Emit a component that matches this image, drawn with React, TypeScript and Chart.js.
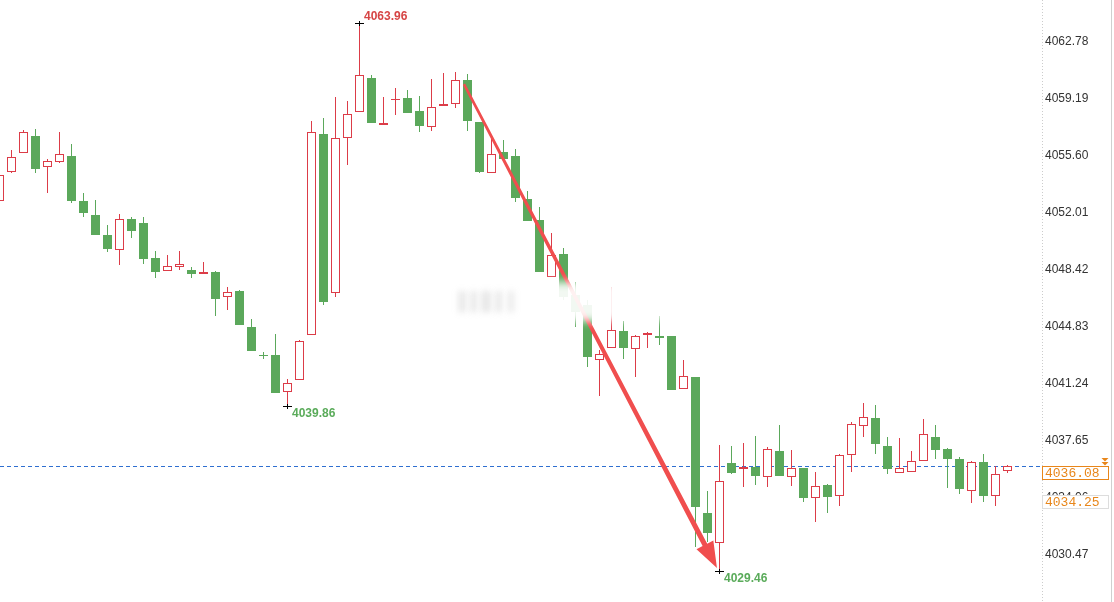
import React, { useEffect, useRef } from 'react';
import { Chart, registerables } from 'chart.js';

Chart.register(...registerables);

// OHLC series, one candle per bar (index 0 is partly off the left edge)
const opens = [
  4052.76, 4054.59, 4055.79, 4056.86, 4054.90, 4055.22, 4055.60, 4052.76, 4051.88, 4050.62,
  4049.67, 4051.63, 4051.38, 4049.17, 4048.35, 4048.60, 4048.41, 4048.16, 4048.29, 4046.71,
  4047.09, 4044.82, 4043.07, 4043.06, 4040.73, 4041.48, 4044.32, 4056.98, 4046.96, 4056.73,
  4058.37, 4060.51, 4057.55, 4059.19, 4059.25, 4058.43, 4057.42, 4058.75, 4058.87, 4060.39,
  4057.74, 4054.53, 4055.85, 4055.60, 4052.89, 4051.56, 4047.97, 4049.42, 4046.84, 4046.21,
  4042.74, 4043.50, 4044.57, 4043.44, 4044.31, 4044.26, 4044.26, 4040.92, 4041.67, 4033.10,
  4031.21, 4036.25, 4035.87, 4036.00, 4035.37, 4037.01, 4035.37, 4035.94, 4034.05, 4034.87,
  4034.17, 4036.76, 4038.58, 4039.09, 4037.32, 4035.62, 4035.69, 4036.38, 4037.89, 4037.13,
  4036.50, 4034.49, 4036.32, 4034.17, 4035.75,
];
const highs = [
  4054.59, 4055.98, 4057.24, 4057.30, 4055.41, 4057.11, 4056.35, 4053.26, 4052.82, 4051.25,
  4051.94, 4051.75, 4051.75, 4049.61, 4049.36, 4049.61, 4048.60, 4048.92, 4048.35, 4047.34,
  4047.15, 4045.33, 4043.25, 4044.38, 4041.55, 4044.00, 4057.80, 4057.99, 4059.31, 4059.06,
  4063.96, 4060.70, 4059.31, 4059.88, 4059.76, 4059.38, 4060.45, 4060.83, 4060.89, 4060.76,
  4057.74, 4056.92, 4056.61, 4056.04, 4053.39, 4052.38, 4050.75, 4049.80, 4047.66, 4046.52,
  4043.37, 4047.34, 4045.20, 4044.32, 4044.51, 4045.51, 4044.26, 4042.74, 4041.67, 4034.49,
  4037.39, 4037.32, 4037.51, 4037.95, 4037.26, 4038.65, 4037.07, 4035.94, 4035.69, 4034.93,
  4036.82, 4038.84, 4040.03, 4039.91, 4037.89, 4037.83, 4037.01, 4039.02, 4038.65, 4037.20,
  4036.63, 4036.38, 4036.82, 4036.06, 4036.12,
];
const lows = [
  4052.64, 4054.53, 4055.79, 4054.53, 4053.26, 4055.16, 4052.64, 4051.75, 4050.62, 4049.55,
  4048.73, 4050.43, 4048.79, 4047.91, 4048.35, 4048.41, 4047.91, 4048.16, 4045.51, 4045.89,
  4044.95, 4043.31, 4042.81, 4040.66, 4039.86, 4041.48, 4044.32, 4046.21, 4046.71, 4055.03,
  4058.37, 4057.68, 4057.55, 4058.18, 4058.31, 4057.11, 4057.17, 4058.75, 4058.62, 4057.17,
  4054.53, 4054.53, 4055.41, 4052.70, 4051.50, 4048.29, 4047.97, 4046.52, 4044.82, 4042.30,
  4040.47, 4043.50, 4042.81, 4041.67, 4043.50, 4043.69, 4040.85, 4040.92, 4030.96, 4031.27,
  4029.46, 4035.56, 4034.74, 4034.87, 4034.74, 4035.43, 4034.80, 4033.79, 4032.53, 4033.10,
  4033.54, 4035.69, 4037.89, 4036.82, 4035.56, 4035.62, 4035.69, 4036.38, 4036.50, 4034.68,
  4034.30, 4033.73, 4033.79, 4033.54, 4035.62,
];
const closes = [
  4054.40, 4055.53, 4057.11, 4054.78, 4055.28, 4055.72, 4052.76, 4052.01, 4050.62, 4049.74,
  4051.63, 4050.87, 4049.11, 4048.29, 4048.66, 4048.79, 4048.16, 4048.29, 4046.59, 4047.03,
  4044.95, 4043.31, 4043.06, 4040.66, 4041.29, 4043.94, 4057.11, 4046.40, 4056.73, 4058.24,
  4060.70, 4057.68, 4057.66, 4059.20, 4058.31, 4057.49, 4058.68, 4058.86, 4060.39, 4057.80,
  4054.59, 4055.72, 4055.41, 4052.95, 4051.50, 4048.29, 4049.36, 4046.71, 4045.77, 4042.93,
  4043.12, 4044.63, 4043.50, 4044.26, 4044.42, 4044.13, 4040.85, 4041.73, 4033.48, 4031.84,
  4035.12, 4035.62, 4035.98, 4035.43, 4037.13, 4035.43, 4035.94, 4034.05, 4034.80, 4034.11,
  4036.76, 4038.71, 4039.15, 4037.45, 4035.87, 4035.94, 4036.38, 4038.08, 4037.07, 4036.50,
  4034.61, 4036.32, 4034.17, 4035.56, 4036.08,
];

// Price axis tick values
const yTicks = [4030.47, 4034.06, 4037.65, 4041.24, 4044.83, 4048.42, 4052.01, 4055.60, 4059.19, 4062.78];

// Current price line and secondary price tag
const lastPrice = 4036.08;
const refPrice = 4034.25;

// Extreme-point annotations: bar index, price, label above/below
const extremeIndex = [30, 24, 60];
const extremeValue = [4063.96, 4039.86, 4029.46];
const extremeAbove = [true, false, false];

// Trend arrow: start and end as (bar index, price)
const arrowFrom = [38.75, 4060.13];
const arrowTo = [59.83, 4029.64];

// Blurred watermark zone as (bar index, price)
const hazeIndex = [37.8, 55.4];
const hazePrice = [4047.66, 4045.18];

const UP = '#dc3c48';
const DOWN = '#5ba85b';
const ORANGE = '#e8861a';

const candlePlugin = {
  id: 'candles',
  beforeDatasetsDraw(chart: any) {
    const { ctx, chartArea, scales } = chart;
    const x = scales.x;
    const y = scales.y;
    ctx.save();

    // dashed current-price line
    const yl = Math.round(y.getPixelForValue(lastPrice)) + 0.5;
    ctx.strokeStyle = '#2f6fd0';
    ctx.lineWidth = 1;
    ctx.setLineDash([4, 3]);
    ctx.beginPath();
    ctx.moveTo(chartArea.left, yl);
    ctx.lineTo(chartArea.right, yl);
    ctx.stroke();
    ctx.setLineDash([]);

    for (let i = 0; i < opens.length; i++) {
      const px = Math.round(x.getPixelForValue(i));
      const o = y.getPixelForValue(opens[i]);
      const c = y.getPixelForValue(closes[i]);
      const h = Math.round(y.getPixelForValue(highs[i]));
      const l = Math.round(y.getPixelForValue(lows[i]));
      const up = closes[i] >= opens[i];
      const color = up ? UP : DOWN;
      const top = Math.round(Math.min(o, c));
      const bh = Math.round(Math.abs(o - c));
      ctx.fillStyle = color;
      ctx.fillRect(px, h, 1, Math.max(1, l - h));
      if (bh < 3) {
        ctx.fillRect(px - 4, top, 9, Math.max(1, bh));
      } else if (up) {
        ctx.fillStyle = '#ffffff';
        ctx.fillRect(px - 4, top, 9, bh);
        ctx.fillStyle = color;
        // 1px outline drawn as four filled edges
        ctx.fillRect(px - 4, top, 9, 1);
        ctx.fillRect(px - 4, top + bh - 1, 9, 1);
        ctx.fillRect(px - 4, top, 1, bh);
        ctx.fillRect(px + 4, top, 1, bh);
      } else {
        ctx.fillRect(px - 4, top, 9, bh);
      }
    }
    ctx.restore();
  },
  afterDraw(chart: any) {
    const { ctx, chartArea, scales, width, height } = chart;
    const x = scales.x;
    const y = scales.y;
    ctx.save();

    // trend arrow
    const x0 = x.getPixelForValue(arrowFrom[0]);
    const y0 = y.getPixelForValue(arrowFrom[1]);
    const x1 = x.getPixelForValue(arrowTo[0]);
    const y1 = y.getPixelForValue(arrowTo[1]);
    const len = Math.hypot(x1 - x0, y1 - y0);
    const ux = (x1 - x0) / len;
    const uy = (y1 - y0) / len;
    const nx = -uy;
    const ny = ux;
    const headLen = 26;
    const headHalf = 9.5;
    const bx = x1 - ux * headLen;
    const by = y1 - uy * headLen;
    const w0 = 1.3;
    const w1 = 2.6;
    ctx.fillStyle = '#f04e4e';
    ctx.beginPath();
    ctx.moveTo(x0 + nx * w0, y0 + ny * w0);
    ctx.lineTo(bx + nx * w1, by + ny * w1);
    ctx.lineTo(bx + nx * headHalf, by + ny * headHalf);
    ctx.lineTo(x1, y1);
    ctx.lineTo(bx - nx * headHalf, by - ny * headHalf);
    ctx.lineTo(bx - nx * w1, by - ny * w1);
    ctx.lineTo(x0 - nx * w0, y0 - ny * w0);
    ctx.closePath();
    ctx.fill();

    // extreme-point markers and labels
    ctx.font = 'bold 12px "Liberation Sans", Arial, sans-serif';
    ctx.textBaseline = 'middle';
    ctx.textAlign = 'left';
    for (let i = 0; i < extremeIndex.length; i++) {
      const px = Math.round(x.getPixelForValue(extremeIndex[i]));
      const py = Math.round(y.getPixelForValue(extremeValue[i]));
      ctx.fillStyle = '#000';
      ctx.fillRect(px - 4, py, 9, 1);
      ctx.fillRect(px, py - 2, 1, 5);
      ctx.fillStyle = extremeAbove[i] ? '#d64545' : '#5aab5a';
      ctx.fillText(extremeValue[i].toFixed(2), px + 5, extremeAbove[i] ? py - 6 : py + 8);
    }

    // blurred watermark zone
    const hx0 = x.getPixelForValue(hazeIndex[0]);
    const hx1 = x.getPixelForValue(hazeIndex[1]);
    const hy0 = y.getPixelForValue(hazePrice[0]);
    const hy1 = y.getPixelForValue(hazePrice[1]);
    ctx.save();
    ctx.filter = 'blur(4px)';
    ctx.fillStyle = 'rgba(255,255,255,0.92)';
    ctx.fillRect(hx0, hy0, hx1 - hx0, hy1 - hy0);
    ctx.filter = 'blur(3px)';
    ctx.fillStyle = 'rgba(150,150,150,0.24)';
    const blobs = [[6, 7], [18, 6], [29, 9], [43, 6], [56, 5]];
    for (const [ox, w] of blobs) {
      ctx.fillRect(hx0 + ox, hy0 + 9, w, hy1 - hy0 - 18);
    }
    ctx.restore();

    // axis separator (dotted) and right frame line
    ctx.strokeStyle = '#cccccc';
    ctx.lineWidth = 1;
    ctx.setLineDash([1, 2]);
    ctx.beginPath();
    ctx.moveTo(chartArea.right + 0.5, 0);
    ctx.lineTo(chartArea.right + 0.5, height);
    ctx.stroke();
    ctx.setLineDash([]);
    ctx.strokeStyle = '#d0d0d0';
    ctx.beginPath();
    ctx.moveTo(width - 2.5, 0);
    ctx.lineTo(width - 2.5, height);
    ctx.stroke();

    // price tags on the axis
    const tagW = 67;
    const tagH = 14;
    ctx.font = '13px "Liberation Mono", "DejaVu Sans Mono", monospace';
    const tags = [
      { v: lastPrice, border: ORANGE },
      { v: refPrice, border: '#dddddd' },
    ];
    for (const t of tags) {
      const ty = Math.round(y.getPixelForValue(t.v));
      ctx.fillStyle = '#ffffff';
      ctx.fillRect(chartArea.right, ty, tagW, tagH);
      ctx.strokeStyle = t.border;
      ctx.strokeRect(chartArea.right + 0.5, ty + 0.5, tagW - 1, tagH - 1);
      ctx.fillStyle = ORANGE;
      ctx.fillText(t.v.toFixed(2), chartArea.right + 3, ty + tagH / 2 + 1);
    }
    // double-chevron marker above the current-price tag
    const my = Math.round(y.getPixelForValue(lastPrice));
    const mx = chartArea.right + tagW - 4;
    ctx.fillStyle = ORANGE;
    for (const off of [-8, -4]) {
      ctx.beginPath();
      ctx.moveTo(mx - 3.5, my + off);
      ctx.lineTo(mx + 3.5, my + off);
      ctx.lineTo(mx, my + off + 3.5);
      ctx.closePath();
      ctx.fill();
    }
    ctx.restore();
  },
};

export default function App() {
  const canvasRef = useRef<HTMLCanvasElement | null>(null);

  useEffect(() => {
    const canvas = canvasRef.current;
    if (!canvas) return;
    const chart = new Chart(canvas, {
      type: 'line',
      data: {
        datasets: [
          {
            data: closes.map((c, i) => ({ x: i, y: c })),
            showLine: false,
            pointRadius: 0,
            pointHoverRadius: 0,
          },
        ],
      },
      options: {
        animation: false,
        responsive: false,
        devicePixelRatio: 1,
        events: [],
        layout: { padding: 0, autoPadding: false },
        plugins: { legend: { display: false }, tooltip: { enabled: false } },
        scales: {
          x: {
            type: 'linear',
            display: false,
            min: 1 / 12,
            max: 1 / 12 + 1042 / 12,
          },
          y: {
            position: 'right',
            min: 4027.49,
            max: 4065.43,
            afterFit: (scale: any) => {
              scale.width = 72;
              scale.paddingTop = 0;
              scale.paddingBottom = 0;
            },
            afterBuildTicks: (scale: any) => {
              scale.ticks = yTicks.map((v) => ({ value: v }));
            },
            grid: { display: false, drawTicks: false },
            border: { display: false },
            ticks: {
              padding: 3,
              color: '#333333',
              font: { family: '"Liberation Sans", Arial, sans-serif', size: 12 },
              callback: (v: any) => Number(v).toFixed(2),
            },
          },
        },
      },
      plugins: [candlePlugin],
    });
    return () => chart.destroy();
  }, []);

  return (
    <div style={{ position: 'absolute', left: 0, top: 0, width: 1114, height: 602, background: '#fff' }}>
      <canvas ref={canvasRef} width={1114} height={602} style={{ display: 'block', width: 1114, height: 602 }} />
    </div>
  );
}
